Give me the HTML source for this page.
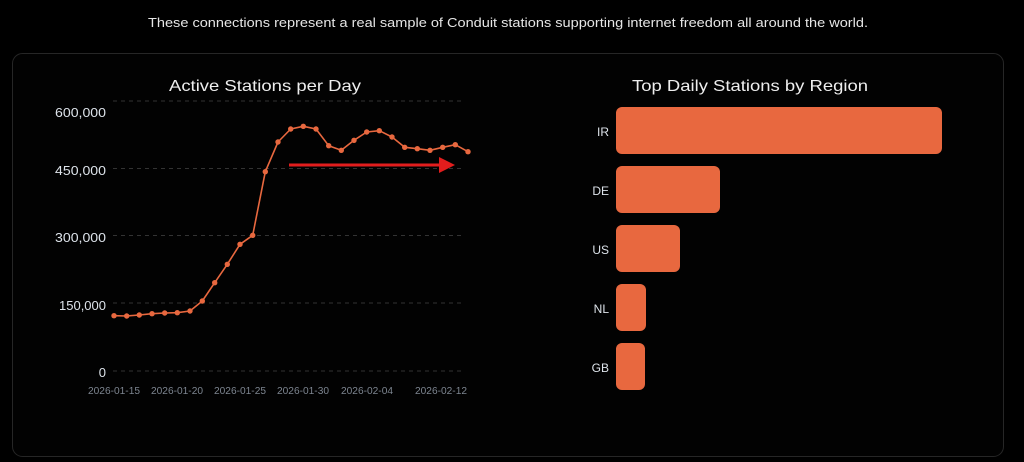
<!DOCTYPE html>
<html><head><meta charset="utf-8"><style>
html,body{margin:0;padding:0;background:#000;width:1024px;height:462px;overflow:hidden}
svg{display:block}
text{font-family:"Liberation Sans",sans-serif}
</style></head><body>
<svg width="1024" height="462" viewBox="0 0 1024 462" xmlns="http://www.w3.org/2000/svg">
<rect width="1024" height="462" fill="#000"/>
<text x="508" y="27" fill="#e6e6e6" font-size="13" text-anchor="middle" textLength="720" lengthAdjust="spacingAndGlyphs">These connections represent a real sample of Conduit stations supporting internet freedom all around the world.</text>
<rect x="12.5" y="53.5" width="991" height="403" rx="10" fill="#020202" stroke="#262626"/>
<text x="265" y="91" fill="#eee" font-size="16" text-anchor="middle" textLength="192" lengthAdjust="spacingAndGlyphs">Active Stations per Day</text>
<text x="750" y="91" fill="#eee" font-size="16" text-anchor="middle" textLength="236" lengthAdjust="spacingAndGlyphs">Top Daily Stations by Region</text>
<g stroke="#333" stroke-dasharray="4,4" stroke-width="1">
<line x1="113" x2="464" y1="101" y2="101"/><line x1="113" x2="464" y1="168.5" y2="168.5"/><line x1="113" x2="464" y1="235.5" y2="235.5"/><line x1="113" x2="464" y1="303" y2="303"/><line x1="113" x2="464" y1="371" y2="371"/>
</g>
<g fill="#dde3ea" font-size="13" text-anchor="end">
<text x="106" y="117" textLength="51" lengthAdjust="spacingAndGlyphs">600,000</text><text x="106" y="175" textLength="51" lengthAdjust="spacingAndGlyphs">450,000</text><text x="106" y="242" textLength="51" lengthAdjust="spacingAndGlyphs">300,000</text><text x="106" y="310" textLength="47" lengthAdjust="spacingAndGlyphs">150,000</text><text x="106" y="377">0</text>
</g>
<g fill="#7d8590" font-size="10" text-anchor="middle">
<text x="114" y="394" textLength="52" lengthAdjust="spacingAndGlyphs">2026-01-15</text>
<text x="177" y="394" textLength="52" lengthAdjust="spacingAndGlyphs">2026-01-20</text>
<text x="240" y="394" textLength="52" lengthAdjust="spacingAndGlyphs">2026-01-25</text>
<text x="303" y="394" textLength="52" lengthAdjust="spacingAndGlyphs">2026-01-30</text>
<text x="367" y="394" textLength="52" lengthAdjust="spacingAndGlyphs">2026-02-04</text>
<text x="441" y="394" textLength="52" lengthAdjust="spacingAndGlyphs">2026-02-12</text>
</g>
<polyline fill="none" stroke="#e8683f" stroke-width="1.6" stroke-linejoin="round" points="114,315.7 126.7,316 139.3,315 152,313.7 164.7,313 177.3,312.7 190,311 202.3,301 214.7,282.7 227.3,264.3 240,244.3 252.7,235.3 265.3,171.7 278,142 290.7,129 303.3,126.3 316,129 328.7,145.7 341.3,150.3 354,140.3 366.7,132 379.3,130.7 392,137 404.7,147.3 417.3,148.7 430,150.3 442.7,147.3 455.3,144.7 468,151.7"/>
<g fill="#e8683f">
<circle cx="114" cy="315.7" r="2.7"/><circle cx="126.7" cy="316" r="2.7"/><circle cx="139.3" cy="315" r="2.7"/><circle cx="152" cy="313.7" r="2.7"/><circle cx="164.7" cy="313" r="2.7"/><circle cx="177.3" cy="312.7" r="2.7"/><circle cx="190" cy="311" r="2.7"/><circle cx="202.3" cy="301" r="2.7"/><circle cx="214.7" cy="282.7" r="2.7"/><circle cx="227.3" cy="264.3" r="2.7"/><circle cx="240" cy="244.3" r="2.7"/><circle cx="252.7" cy="235.3" r="2.7"/><circle cx="265.3" cy="171.7" r="2.7"/><circle cx="278" cy="142" r="2.7"/><circle cx="290.7" cy="129" r="2.7"/><circle cx="303.3" cy="126.3" r="2.7"/><circle cx="316" cy="129" r="2.7"/><circle cx="328.7" cy="145.7" r="2.7"/><circle cx="341.3" cy="150.3" r="2.7"/><circle cx="354" cy="140.3" r="2.7"/><circle cx="366.7" cy="132" r="2.7"/><circle cx="379.3" cy="130.7" r="2.7"/><circle cx="392" cy="137" r="2.7"/><circle cx="404.7" cy="147.3" r="2.7"/><circle cx="417.3" cy="148.7" r="2.7"/><circle cx="430" cy="150.3" r="2.7"/><circle cx="442.7" cy="147.3" r="2.7"/><circle cx="455.3" cy="144.7" r="2.7"/><circle cx="468" cy="151.7" r="2.7"/>
</g>
<line x1="289" y1="165" x2="442" y2="165" stroke="#e21d1d" stroke-width="3"/>
<polygon points="439,157 455,165 439,173" fill="#e21d1d"/>
<g fill="#e8683f">
<rect x="616" y="107" width="326" height="47" rx="6"/>
<rect x="616" y="166" width="104" height="47" rx="6"/>
<rect x="616" y="225" width="64" height="47" rx="6"/>
<rect x="616" y="284" width="30" height="47" rx="6"/>
<rect x="616" y="343" width="29" height="47" rx="6"/>
</g>
<g fill="#dde3ea" font-size="12" text-anchor="end">
<text x="609" y="136">IR</text><text x="609" y="195">DE</text><text x="609" y="254">US</text><text x="609" y="313">NL</text><text x="609" y="372">GB</text>
</g>
</svg>
</body></html>
